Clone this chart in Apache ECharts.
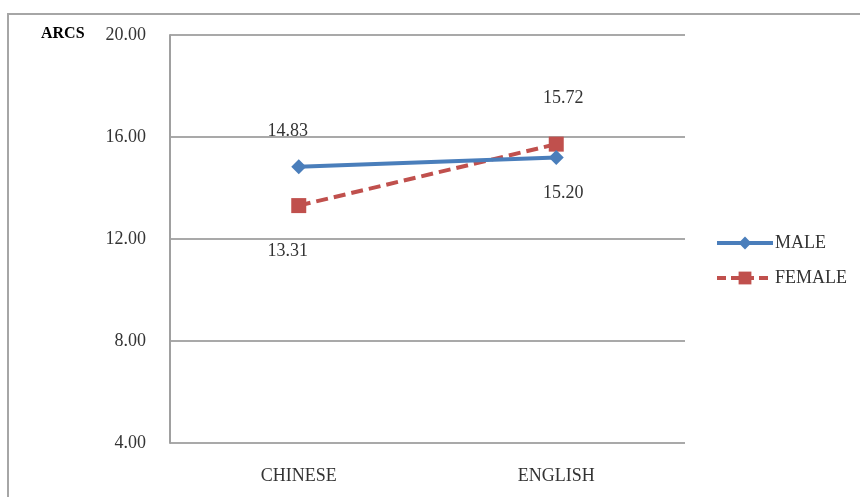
<!DOCTYPE html>
<html>
<head>
<meta charset="utf-8">
<style>
  html, body { margin: 0; padding: 0; background: #ffffff; }
  #chart { width: 860px; height: 497px; }
</style>
<script src="https://cdn.jsdelivr.net/npm/echarts@6/dist/echarts.min.js"></script>
</head>
<body>
<div id="chart"></div>
<script>
// Mean ARCS scores by language and gender
const categories = ['CHINESE', 'ENGLISH'];
const maleScores = [14.83, 15.20];
const femaleScores = [13.31, 15.72];
const yTicks = { min: 4, max: 20, step: 4 };

const FONT = '"Liberation Serif", "DejaVu Serif", serif';
const BLUE = '#4a7ebb';
const RED = '#c0504d';
const TEXT = '#333333';

// Label above or below each point so the two series don't collide
function labelled(values, positions, shifts) {
  return values.map((v, i) => ({
    value: v,
    label: { position: positions[i], offset: [shifts[i], 0] }
  }));
}

const chart = echarts.init(document.getElementById('chart'), null, { renderer: 'canvas' });

chart.setOption({
  animation: false,
  backgroundColor: '#ffffff',
  textStyle: { fontFamily: FONT },
  graphic: [
    {
      type: 'rect',
      shape: { x: 8, y: 14, width: 900, height: 600 },
      style: { fill: 'none', stroke: '#a6a6a6', lineWidth: 2 },
      silent: true
    },
    {
      type: 'text',
      left: 41, top: 26,
      style: { text: 'ARCS', font: 'bold 16px ' + FONT, fill: '#000000' }
    }
  ],
  grid: { left: 170, right: 175, top: 35, bottom: 54 },
  legend: {
    orient: 'vertical',
    left: 715, top: 234, padding: 0,
    itemWidth: 56, itemHeight: 16, itemGap: 17,
    textStyle: { fontFamily: FONT, fontSize: 18, color: TEXT, padding: [0, 0, 0, -3] },
    data: [
      { name: 'MALE', lineStyle: { width: 4 } },
      { name: 'FEMALE', lineStyle: { width: 4, type: [9, 5] } }
    ]
  },
  xAxis: {
    type: 'category',
    data: categories,
    boundaryGap: true,
    axisLine: { show: false },
    axisTick: { show: false },
    axisLabel: { margin: 24, fontFamily: FONT, fontSize: 18, color: TEXT }
  },
  yAxis: {
    type: 'value',
    min: yTicks.min, max: yTicks.max, interval: yTicks.step,
    axisLine: { show: true, lineStyle: { color: '#a0a0a0', width: 2 } },
    axisTick: { show: false },
    axisLabel: {
      margin: 24, fontFamily: FONT, fontSize: 18, color: TEXT,
      formatter: v => v.toFixed(2)
    },
    splitLine: { lineStyle: { color: '#8c8c8c', width: 1.5 } }
  },
  series: [
    {
      name: 'MALE',
      type: 'line',
      data: labelled(maleScores, ['top', 'bottom'], [-11, 7]),
      symbol: 'diamond',
      symbolSize: 15,
      itemStyle: { color: BLUE },
      lineStyle: { color: BLUE, width: 4 },
      label: {
        show: true, distance: 19,
        fontFamily: FONT, fontSize: 18, color: TEXT,
        formatter: p => p.value.toFixed(2)
      },
      z: 3
    },
    {
      name: 'FEMALE',
      type: 'line',
      data: labelled(femaleScores, ['bottom', 'top'], [-11, 7]),
      symbol: 'rect',
      symbolSize: 15,
      itemStyle: { color: RED },
      lineStyle: { color: RED, width: 4, type: [12, 6] },
      label: {
        show: true, distance: 29,
        fontFamily: FONT, fontSize: 18, color: TEXT,
        formatter: p => p.value.toFixed(2)
      },
      z: 2
    }
  ]
});
</script>
</body>
</html>
